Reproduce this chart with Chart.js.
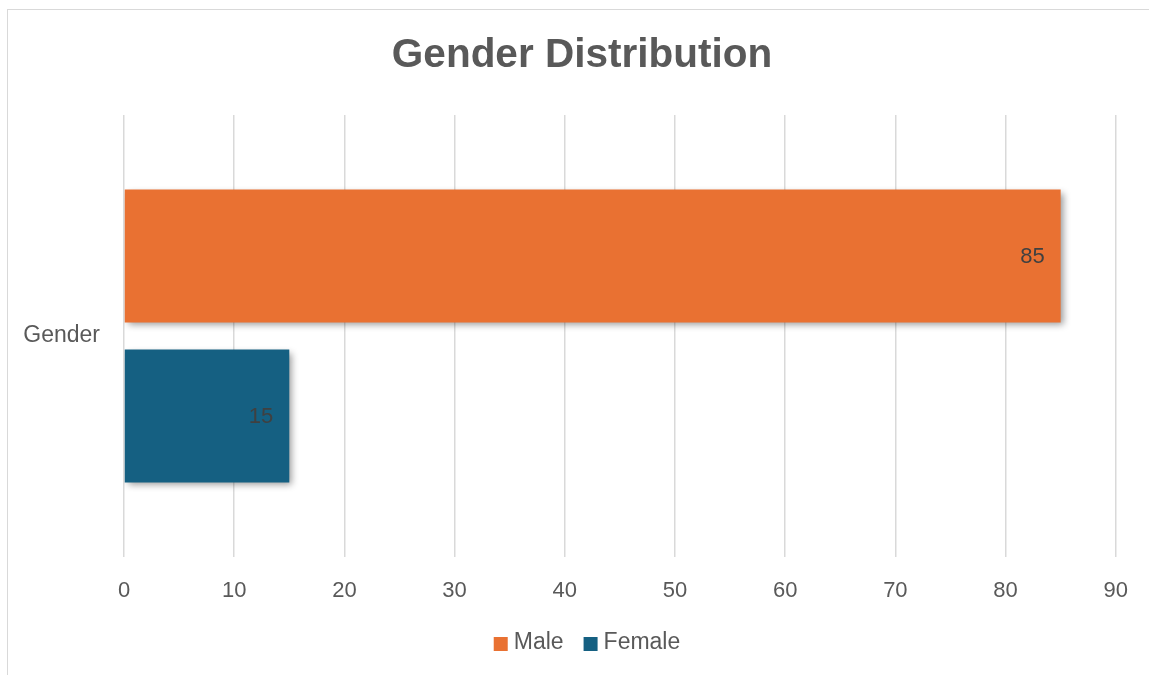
<!DOCTYPE html>
<html>
<head>
<meta charset="utf-8">
<script src="https://cdn.jsdelivr.net/npm/chart.js@4.4.1/dist/chart.umd.min.js"></script>
<style>
  html, body { margin: 0; padding: 0; background: #fff; }
  #wrap { position: relative; width: 1149px; height: 675px; }
</style>
</head>
<body>
<div id="wrap"><canvas id="genderChart"></canvas></div>
<script>
const categories = ["Gender"];
const seriesNames = ["Male", "Female"];
const maleValues = [85];
const femaleValues = [15];
const axisMin = 0;
const axisMax = 90;
const axisStep = 10;

const chartTitle = "Gender Distribution";
const textGrey = "#595959";
const fontFamily = "'Liberation Sans', Arial, sans-serif";

// frame, title and legend; title and legend are centred on the whole frame,
// not on the plot area, so they are drawn here instead of by the built-ins
const chartDecor = {
    id: "chartDecor",
    beforeDraw(chart) {
        const ctx = chart.ctx;
        ctx.save();
        ctx.strokeStyle = "#d9d9d9";
        ctx.lineWidth = 1;
        ctx.strokeRect(7.5, 9.5, chart.width + 20, chart.height + 20);
        ctx.restore();
    },
    afterDraw(chart) {
        const ctx = chart.ctx;
        const midX = 582;
        ctx.save();
        ctx.fillStyle = textGrey;
        ctx.textBaseline = "middle";

        ctx.font = "bold 40.5px " + fontFamily;
        ctx.textAlign = "center";
        ctx.fillText(chartTitle, midX, 56);

        // legend row
        ctx.font = "23px " + fontFamily;
        ctx.textAlign = "left";
        const box = 14, gap = 6, itemGap = 20, legendY = 643;
        const items = chart.data.datasets.map(ds => ({
            text: ds.label,
            color: ds.backgroundColor,
            w: box + gap + ctx.measureText(ds.label).width,
        }));
        const total = items.reduce((s, it) => s + it.w, 0) + itemGap * (items.length - 1);
        let x = midX + 5 - total / 2;
        items.forEach(it => {
            ctx.fillStyle = it.color;
            ctx.fillRect(x, legendY - box / 2 + 1, box, box);
            ctx.fillStyle = textGrey;
            ctx.fillText(it.text, x + box + gap, legendY);
            x += it.w + itemGap;
        });
        ctx.restore();
    },
};

// soft drop shadow under the bars
const barShadow = {
    id: "barShadow",
    beforeDatasetsDraw(chart) {
        const ctx = chart.ctx;
        ctx.save();
        ctx.shadowColor = "rgba(0, 0, 0, 0.4)";
        ctx.shadowBlur = 7;
        ctx.shadowOffsetX = 3;
        ctx.shadowOffsetY = 3;
    },
    afterDatasetsDraw(chart) {
        chart.ctx.restore();
    },
};

// value printed just inside the end of each bar
const barValues = {
    id: "barValues",
    afterDatasetsDraw(chart) {
        const ctx = chart.ctx;
        ctx.save();
        ctx.font = "22px " + fontFamily;
        ctx.fillStyle = "#404040";
        ctx.textAlign = "right";
        ctx.textBaseline = "middle";
        chart.data.datasets.forEach((ds, i) => {
            chart.getDatasetMeta(i).data.forEach((bar, j) => {
                ctx.fillText(String(ds.data[j]), bar.x - 16, bar.y + 1);
            });
        });
        ctx.restore();
    },
};

const ctx = document.getElementById("genderChart").getContext("2d");

new Chart(ctx, {
    type: "bar",
    data: {
        labels: categories,
        datasets: [
            {
                label: seriesNames[0],
                data: maleValues,
                backgroundColor: "#E97132",
            },
            {
                label: seriesNames[1],
                data: femaleValues,
                backgroundColor: "#156082",
            },
        ],
    },
    options: {
        indexAxis: "y",
        responsive: true,
        maintainAspectRatio: false,
        animation: false,
        categoryPercentage: 0.724,
        barPercentage: 0.831,
        layout: {
            padding: { left: 0, right: 31, top: 115, bottom: 64 },
        },
        scales: {
            x: {
                min: axisMin,
                max: axisMax,
                ticks: {
                    stepSize: axisStep,
                    color: textGrey,
                    font: { family: fontFamily, size: 22 },
                    padding: 21,
                },
                grid: {
                    color: "#d9d9d9",
                    lineWidth: 1.5,
                    drawTicks: false,
                },
                border: { display: false },
                afterFit(scale) {
                    scale.height = 54;
                },
            },
            y: {
                ticks: {
                    color: textGrey,
                    font: { family: fontFamily, size: 23 },
                    padding: 24,
                },
                grid: { display: false, drawTicks: false },
                border: { display: false },
                afterFit(scale) {
                    scale.width = 124;
                },
            },
        },
        plugins: {
            title: { display: false },
            legend: { display: false },
            tooltip: { enabled: false },
        },
    },
    plugins: [chartDecor, barShadow, barValues],
});
</script>
</body>
</html>
